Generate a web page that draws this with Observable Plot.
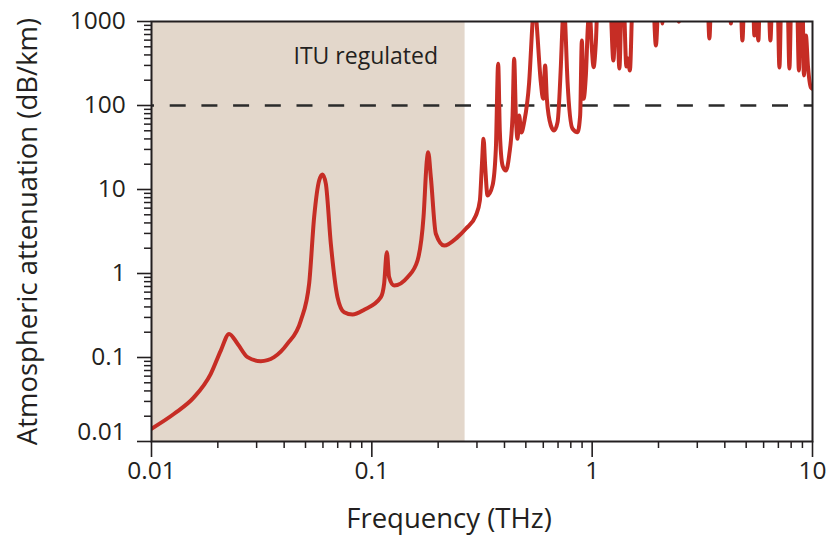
<!DOCTYPE html>
<html>
<head>
<meta charset="utf-8">
<script src="https://cdn.jsdelivr.net/npm/d3@7"></script>
<script src="https://cdn.jsdelivr.net/npm/@observablehq/plot@0.6"></script>
<style>
  html, body { margin: 0; padding: 0; background: #fff; }
  #chart svg { display: block; }
</style>
</head>
<body>
<div id="chart"></div>
<script>
// Atmospheric attenuation spectrum, 10 GHz – 10 THz (log–log).
// Frequency in THz.
const freqTHz = [
  0.0100, 0.01267, 0.01561, 0.01858, 0.02063, 0.02250, 0.02457, 0.02728, 0.03135, 0.0360,
  0.04143, 0.04763, 0.05193, 0.05472, 0.05766, 0.05974, 0.06184, 0.06515, 0.06985, 0.07485,
  0.08177, 0.09230, 0.1099, 0.1137, 0.1170, 0.1198, 0.1262, 0.1452, 0.1612, 0.1716,
  0.1777, 0.1802, 0.1853, 0.1952, 0.2129, 0.2449, 0.2671, 0.2966, 0.3093, 0.3158,
  0.3214, 0.3268, 0.3351, 0.3531, 0.3655, 0.3744, 0.3811, 0.3920, 0.4058, 0.4200,
  0.4352, 0.4425, 0.4505, 0.4585, 0.4662, 0.4770, 0.4912, 0.5176, 0.5363, 0.5465,
  0.5591, 0.5848, 0.5991, 0.6118, 0.6228, 0.6495, 0.6723, 0.6966, 0.7211, 0.7340,
  0.7441, 0.7542, 0.7733, 0.8147, 0.8584, 0.8820, 0.8978, 0.9140, 0.9363, 0.9590,
  0.9762, 0.9969, 1.0147, 1.0395, 1.0614, 1.203, 1.248, 1.290, 1.329, 1.364,
  1.386, 1.430, 1.453, 1.483, 1.530, 1.886, 1.946, 2.008, 2.051, 2.083,
  2.116, 2.449, 2.475, 2.501, 3.334, 3.404, 3.476, 4.219, 4.263, 4.307,
  4.707, 4.807, 4.909, 5.363, 5.448, 5.563, 5.681, 5.770, 6.306, 6.440,
  6.577, 6.930, 7.077, 7.226, 7.693, 7.856, 8.022, 8.495, 8.675, 8.859,
  8.999, 9.141, 9.334, 9.531, 9.833, 10.0
];

// Specific attenuation in dB/km (values above 1000 run off the top of the frame).
const attenDbKm = [
  0.0142, 0.0214, 0.0337, 0.064, 0.121, 0.191, 0.146, 0.101, 0.0904, 0.101,
  0.146, 0.276, 0.754, 4.68, 12.8, 15.1, 11.7, 2.26, 0.522, 0.346,
  0.325, 0.370, 0.522, 0.754, 1.79, 0.904, 0.720, 0.904, 1.43, 4.68,
  22.1, 27.8, 14.0, 2.97, 2.15, 2.71, 3.41, 4.90, 7.40, 19.3,
  40.2, 19.3, 8.49, 11.2, 30.5, 313, 48.1, 19.3, 16.8, 25.4,
  76.0, 360, 76.0, 40.2, 76.0, 47.7, 63.3, 189, 982, 2000,
  982, 189, 120, 299, 120, 57.8, 50.4, 63.3, 299, 982,
  2000, 982, 189, 52.8, 48.1, 76.0, 594, 120, 228, 982,
  1200, 473, 286, 567, 2000, 2000, 343, 2000, 275, 2000,
  2000, 291, 363, 261, 2000, 2000, 518, 2000, 2000, 946,
  2000, 2000, 990, 2000, 2000, 628, 2000, 2000, 946, 2000,
  2000, 594, 2000, 2000, 681, 1100, 594, 2000, 2000, 594,
  2000, 2000, 283, 2000, 2000, 275, 2000, 2000, 261, 2000,
  2000, 228, 681, 299, 164, 158
];

// Regulated band limits (THz) and the 100 dB/km reference level.
const ituBand = [0.01, 0.265];
const ituLabel = ["ITU regulated"];
const referenceLevel = [100];

// Axis ticks and titles.
const xTicks = [0.01, 0.1, 1, 10];
const yTicks = [0.01, 0.1, 1, 10, 100, 1000];
const xTitle = ["Frequency (THz)"];
const yTitle = ["Atmospheric attenuation (dB/km)"];

const minorTicks = (majors) => majors.slice(0, -1).flatMap(d => [2, 3, 4, 5, 6, 7, 8, 9].map(m => +(d * m).toPrecision(3)));
const xMinor = minorTicks(xTicks);
const yMinor = minorTicks(yTicks);

const spectrum = freqTHz.map((f, i) => ({f, a: attenDbKm[i]}));

const ink = "#231f20";
const red = "#c62d25";

const chart = Plot.plot({
  width: 828,
  height: 537,
  marginLeft: 151,
  marginRight: 16,
  marginTop: 21,
  marginBottom: 96,
  style: {fontFamily: "'Open Sans', sans-serif", color: ink, background: "#fff"},
  x: {type: "log", domain: [0.01, 10], label: null},
  y: {type: "log", domain: [0.01, 1000], label: null},
  marks: [
    Plot.rect([ituBand], {x1: d => d[0], x2: d => d[1], y1: 0.01, y2: 1000, fill: "#e3d7cb"}),
    Plot.ruleY(referenceLevel, {stroke: "#2b2b2b", strokeWidth: 2.5, strokeDasharray: "16,15.7", strokeDashoffset: 13}),
    Plot.text(ituLabel, {frameAnchor: "top-left", dx: 142, dy: 35, textAnchor: "start", lineAnchor: "middle", fontSize: 23, fill: ink}),
    Plot.line(spectrum, {x: "f", y: "a", stroke: red, strokeWidth: 4, curve: "monotone-x", clip: true, strokeLinejoin: "round"}),
    // bottom axis
    Plot.axisX(xMinor, {tickSize: 7, tickFormat: () => "", stroke: ink, strokeWidth: 1.5, label: null}),
    Plot.axisX(xTicks, {tickSize: 16, tickPadding: 4, tickFormat: d => String(d), fontSize: 24.5, fill: ink, stroke: ink, strokeWidth: 1.6, label: null}),
    // left axis
    Plot.axisY(yMinor, {tickSize: 7, tickFormat: () => "", stroke: ink, strokeWidth: 1.5, label: null}),
    Plot.axisY(yTicks, {tickSize: 14, tickPadding: 11.7, tickFormat: d => d === 0.01 ? "" : String(d), fontSize: 24.5, fill: ink, stroke: ink, strokeWidth: 1.6, label: null}),
    Plot.axisY([0.01], {tickSize: 0, tickPadding: 25.7, dy: -9, tickFormat: d => String(d), fontSize: 24.5, fill: ink, label: null}),
    Plot.frame({stroke: ink, strokeWidth: 2}),
    // axis titles
    Plot.text(xTitle, {frameAnchor: "bottom", dx: -33, dy: 78, lineAnchor: "middle", textAnchor: "middle", fontSize: 27.5, fill: ink}),
    Plot.text(yTitle, {frameAnchor: "left", dx: -123, rotate: -90, lineAnchor: "middle", textAnchor: "middle", fontSize: 27.5, fill: ink})
  ]
});

document.getElementById("chart").append(chart);
</script>
</body>
</html>
